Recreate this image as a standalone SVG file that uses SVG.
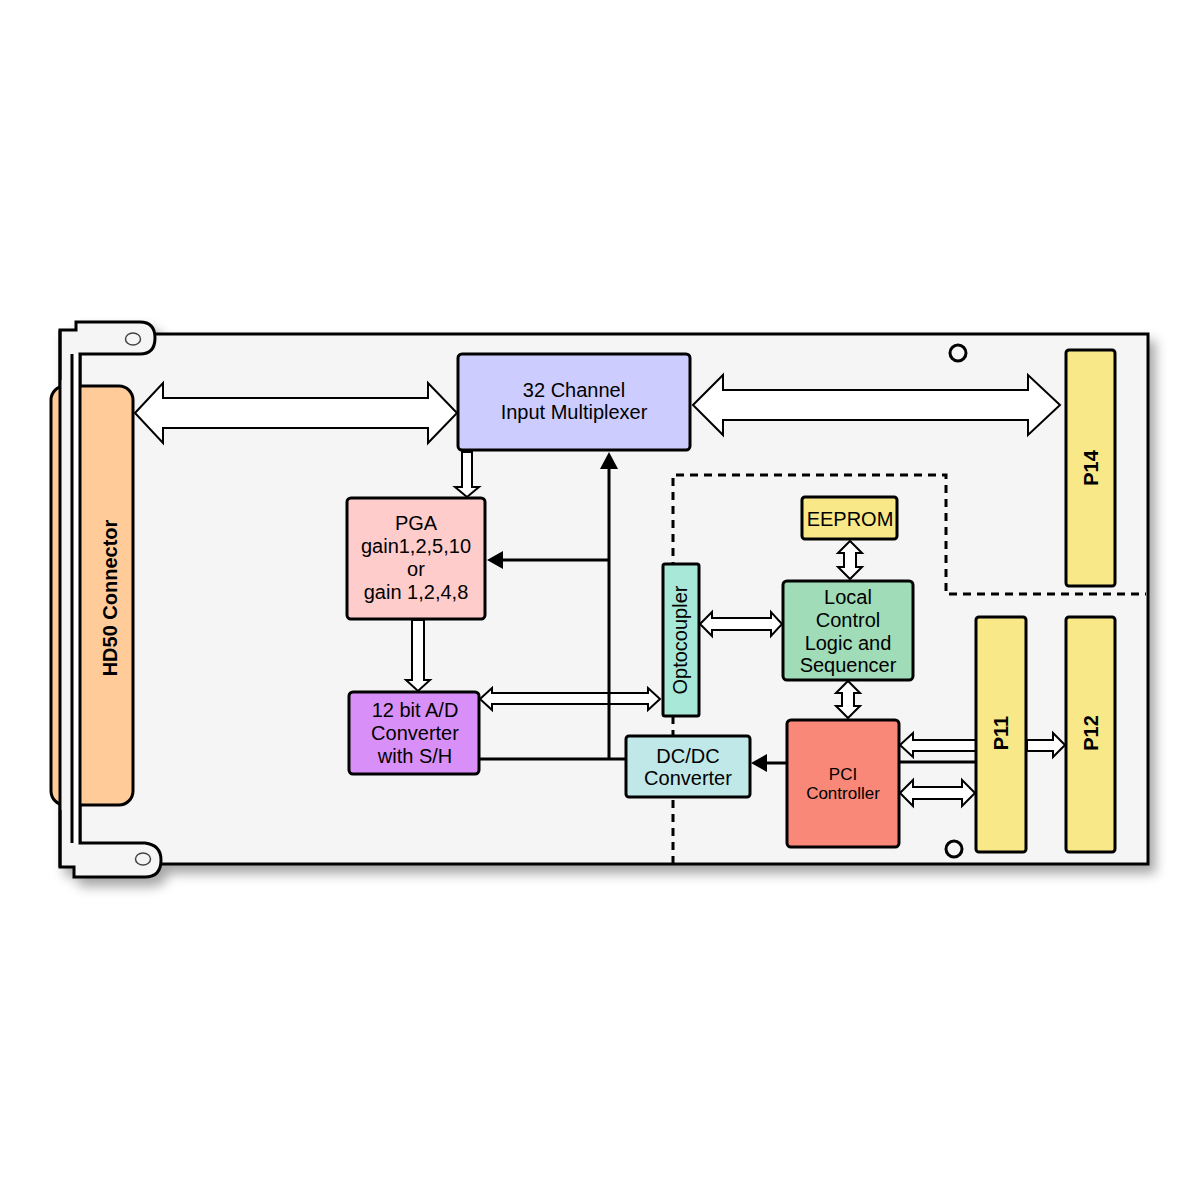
<svg xmlns="http://www.w3.org/2000/svg" width="1200" height="1200" viewBox="0 0 1200 1200">
<defs>
<filter id="sh" x="-5%" y="-5%" width="115%" height="120%">
<feDropShadow dx="6" dy="8" stdDeviation="6" flood-color="#000" flood-opacity="0.35"/>
</filter>
</defs>
<style>
.box{stroke:#000;stroke-width:3}
.t{font-family:"Liberation Sans",Arial,sans-serif;font-size:20px;text-anchor:middle;fill:#000}
.b{font-weight:bold}
.ho{fill:#fff;stroke:#000;stroke-width:2;stroke-linejoin:miter}
.ln{fill:none;stroke:#000;stroke-width:3}
.ah{fill:#000}
</style>
<rect x="0" y="0" width="1200" height="1200" fill="#fff"/>
<g id="board">
<g filter="url(#sh)">
<rect x="70" y="334" width="1078" height="530" fill="#f5f5f5" stroke="#000" stroke-width="3"/>
<path d="M60,330 H76 V322 H140 Q155,322 155,338 Q155,354 140,354 H80 V843 H145 Q161,845 161,860 Q161,877 145,877 H74 V867 H60 Z" fill="#f5f5f5" stroke="#000" stroke-width="3"/>
</g>
<rect x="51" y="386" width="82" height="419" rx="14" fill="#ffcc99" stroke="#000" stroke-width="3"/>
<rect x="60" y="380" width="12" height="430" fill="#f5f5f5"/>
<rect x="72" y="354" width="8" height="489" fill="#fff"/>
<line x1="60" y1="330" x2="60" y2="867" stroke="#000" stroke-width="3"/>
<line x1="72" y1="354" x2="72" y2="843" stroke="#000" stroke-width="3"/>
<line x1="80" y1="354" x2="80" y2="843" stroke="#000" stroke-width="3"/>
<ellipse cx="133" cy="339" rx="7.5" ry="6" fill="none" stroke="#444" stroke-width="1.5"/>
<ellipse cx="143" cy="859" rx="7.5" ry="6" fill="none" stroke="#444" stroke-width="1.5"/>
<circle cx="958" cy="353" r="8" fill="none" stroke="#000" stroke-width="3"/>
<circle cx="954" cy="849" r="8" fill="none" stroke="#000" stroke-width="3"/>
<path d="M673,864 V475 H946 V594 H1146" fill="none" stroke="#000" stroke-width="3" stroke-dasharray="8 6"/>
</g>
<g id="connectors">
<polygon class="ho" points="135,413 163,383 163,398 428,398 428,383 457,413 428,443 428,428 163,428 163,443"/>
<polygon class="ho" points="693,405 723,375 723,390 1028,390 1028,375 1060,405 1028,435 1028,420 723,420 723,435"/>
<polygon class="ho" points="462,452 472,452 472,487 479,487 467,497 455,487 462,487"/>
<polygon class="ho" points="412,620 424,620 424,680 430,680 418,691 406,680 412,680"/>
<polygon class="ho" points="480,699 492,688 492,693 648,693 648,688 660,699 648,710 648,704 492,704 492,710"/>
<polygon class="ho" points="700,624 712,612 712,618 771,618 771,612 782,624 771,636 771,630 712,630 712,636"/>
<polygon class="ho" points="850,541 862,553 856,553 856,567 862,567 850,579 838,567 844,567 844,553 838,553"/>
<polygon class="ho" points="848,681 860,693 854,693 854,706 860,706 848,718 836,706 842,706 842,693 836,693"/>
<polygon class="ho" points="900,745 913,733 913,740 976,740 976,751 913,751 913,757"/>
<polygon class="ho" points="900,793 913,780 913,787 962,787 962,780 975,793 962,806 962,799 913,799 913,806"/>
<polygon class="ho" points="1027,740 1053,740 1053,733 1065,745 1053,757 1053,751 1027,751"/>
<path class="ln" d="M480,759 H626"/>
<path class="ln" d="M609,759 V466"/>
<polygon class="ah" points="609,452 618,469 600,469"/>
<path class="ln" d="M609,560 H500"/>
<polygon class="ah" points="487,560 503,551 503,569"/>
<path class="ln" d="M787,763 H764"/>
<polygon class="ah" points="751,763 767,754 767,772"/>
<path class="ln" d="M900,762 H976"/>
</g>
<g id="hd50">
<text class="t b" transform="translate(117,598) rotate(-90)">HD50 Connector</text>
</g>
<g id="mux">
<rect class="box" x="458" y="354" width="232" height="96" rx="4" fill="#ccccff"/>
<text class="t" x="574" y="397">32 Channel</text>
<text class="t" x="574" y="419">Input Multiplexer</text>
</g>
<g id="pga">
<rect class="box" x="347" y="498" width="138" height="121" rx="4" fill="#ffcccc"/>
<text class="t" x="416" y="530">PGA</text>
<text class="t" x="416" y="553">gain1,2,5,10</text>
<text class="t" x="416" y="576">or</text>
<text class="t" x="416" y="599">gain 1,2,4,8</text>
</g>
<g id="adc">
<rect class="box" x="349" y="692" width="130" height="82" rx="4" fill="#d890f8"/>
<text class="t" x="415" y="717">12 bit A/D</text>
<text class="t" x="415" y="740">Converter</text>
<text class="t" x="415" y="763">with S/H</text>
</g>
<g id="opto">
<rect class="box" x="663" y="564" width="36" height="152" rx="2" fill="#a8e8d8"/>
<text class="t" transform="translate(687,640) rotate(-90)">Optocoupler</text>
</g>
<g id="dcdc">
<rect class="box" x="626" y="736" width="124" height="61" rx="3" fill="#c0e8e8"/>
<text class="t" x="688" y="763">DC/DC</text>
<text class="t" x="688" y="785">Converter</text>
</g>
<g id="eeprom">
<rect class="box" x="802" y="497" width="95" height="42" rx="3" fill="#f8e888"/>
<text class="t" x="850" y="526">EEPROM</text>
</g>
<g id="local">
<rect class="box" x="783" y="581" width="130" height="99" rx="4" fill="#a0dcb8"/>
<text class="t" x="848" y="604">Local</text>
<text class="t" x="848" y="627">Control</text>
<text class="t" x="848" y="650">Logic and</text>
<text class="t" x="848" y="672">Sequencer</text>
</g>
<g id="pci">
<rect class="box" x="787" y="720" width="112" height="127" rx="4" fill="#fa8878"/>
<text class="t" style="font-size:17px" x="843" y="780">PCI</text>
<text class="t" style="font-size:17px" x="843" y="799">Controller</text>
</g>
<g id="p14">
<rect class="box" x="1066" y="350" width="49" height="236" rx="3" fill="#f8e888"/>
<text class="t b" transform="translate(1098,468) rotate(-90)">P14</text>
</g>
<g id="p11">
<rect class="box" x="976" y="617" width="50" height="235" rx="3" fill="#f8e888"/>
<text class="t b" transform="translate(1008,733) rotate(-90)">P11</text>
</g>
<g id="p12">
<rect class="box" x="1066" y="617" width="49" height="235" rx="3" fill="#f8e888"/>
<text class="t b" transform="translate(1098,733) rotate(-90)">P12</text>
</g>
</svg>
